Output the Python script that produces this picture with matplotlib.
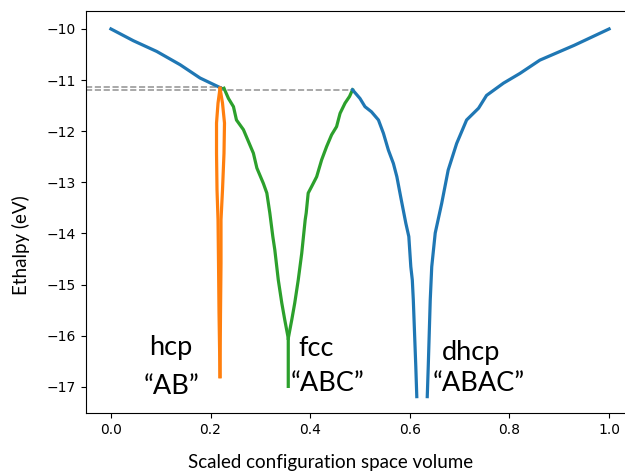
import matplotlib
matplotlib.use('Agg')
import matplotlib.pyplot as plt

# top branch (shared basin, blue)
top_x = [0.0, 0.045, 0.092, 0.139, 0.179, 0.222]
top_y = [-10.0, -10.23, -10.44, -10.70, -10.96, -11.16]

# hcp "AB" funnel (orange), left and right edges of the thin loop
hcp_left_x = [0.219, 0.215, 0.212, 0.212, 0.213, 0.215, 0.216, 0.217, 0.219]
hcp_right_x = [0.219, 0.224, 0.228, 0.227, 0.224, 0.221, 0.221, 0.220, 0.219]
hcp_y = [-11.16, -11.45, -11.84, -12.43, -13.15, -13.73, -14.58, -15.55, -16.80]

# fcc "ABC" funnel (green)
fcc_left_x = [0.227, 0.236, 0.246, 0.252, 0.266, 0.276, 0.286, 0.293, 0.306, 0.313,
              0.319, 0.325, 0.329, 0.336, 0.343, 0.349, 0.356, 0.356]
fcc_left_y = [-11.16, -11.36, -11.52, -11.78, -11.97, -12.20, -12.43, -12.72, -13.02, -13.21,
              -13.60, -14.06, -14.32, -14.91, -15.36, -15.69, -16.05, -16.99]
fcc_right_x = [0.356, 0.363, 0.369, 0.376, 0.383, 0.390, 0.392, 0.396, 0.403, 0.413,
               0.423, 0.433, 0.443, 0.453, 0.460, 0.470, 0.479, 0.485]
fcc_right_y = [-16.05, -15.69, -15.36, -14.91, -14.39, -13.73, -13.60, -13.21, -13.08, -12.89,
               -12.56, -12.30, -12.07, -11.91, -11.65, -11.45, -11.32, -11.19]

# dhcp "ABAC" funnel (blue)
dhcp_left_x = [0.485, 0.500, 0.510, 0.523, 0.537, 0.547, 0.557, 0.567, 0.574, 0.582,
               0.592, 0.598, 0.602, 0.605, 0.607, 0.610, 0.612, 0.614]
dhcp_left_y = [-11.19, -11.36, -11.52, -11.62, -11.78, -12.04, -12.37, -12.63, -12.89, -13.30,
               -13.80, -14.06, -14.65, -14.91, -15.30, -16.08, -16.60, -17.19]
dhcp_right_x = [0.635, 0.637, 0.639, 0.641, 0.644, 0.651, 0.664, 0.677, 0.694, 0.714,
                0.738, 0.754, 0.788, 0.821, 0.861, 0.930, 1.0]
dhcp_right_y = [-17.19, -16.60, -15.95, -15.30, -14.65, -13.99, -13.41, -12.76, -12.24, -11.78,
                -11.55, -11.30, -11.06, -10.87, -10.61, -10.32, -10.0]

# saddle levels (dashed)
saddle_levels = [-11.14, -11.20]
saddle_ends = [0.222, 0.485]

labels = ['hcp', '\u201cAB\u201d', 'fcc', '\u201cABC\u201d', 'dhcp', '\u201cABAC\u201d']

fig = plt.figure(figsize=(6.25, 4.74), dpi=100)
ax = fig.add_axes([0.1376, 0.1287, 0.8768, 0.848])

lw = 2.3
for lev, end in zip(saddle_levels, saddle_ends):
    ax.plot([-0.05, end], [lev, lev], color='#999999', linestyle='--', linewidth=1.2, zorder=1)

ax.plot(top_x, top_y, color='tab:blue', linewidth=lw)
ax.plot(hcp_left_x, hcp_y, color='tab:orange', linewidth=lw)
ax.plot(hcp_right_x, hcp_y, color='tab:orange', linewidth=lw)
ax.plot(fcc_left_x, fcc_left_y, color='tab:green', linewidth=lw)
ax.plot(fcc_right_x, fcc_right_y, color='tab:green', linewidth=lw)
ax.plot(dhcp_left_x, dhcp_left_y, color='tab:blue', linewidth=lw)
ax.plot(dhcp_right_x, dhcp_right_y, color='tab:blue', linewidth=lw)

ax.set_xlim(-0.05, 1.05)
ax.set_ylim(-17.51, -9.65)
ax.set_xticks([0.0, 0.2, 0.4, 0.6, 0.8, 1.0])
ax.set_yticks([-10, -11, -12, -13, -14, -15, -16, -17])
ax.tick_params(labelsize=10)

lab_font = dict(family='Lato', fontsize=19.5, ha='center', va='center')
pos = [(0.120, -16.22), (0.122, -17.0), (0.412, -16.24), (0.434, -16.94),
       (0.723, -16.32), (0.739, -16.94)]
for (px, py), t in zip(pos, labels):
    ax.text(px, py, t, **lab_font)

ax.set_xlabel('Scaled configuration space volume', family='Lato', fontsize=13.5, va='center')
ax.set_ylabel('Ethalpy (eV)', family='Lato', fontsize=13.5, va='center')
ax.xaxis.set_label_coords(0.447, -0.122)
ax.yaxis.set_label_coords(-0.119, 0.417)

plt.savefig('out.png', dpi=100)
